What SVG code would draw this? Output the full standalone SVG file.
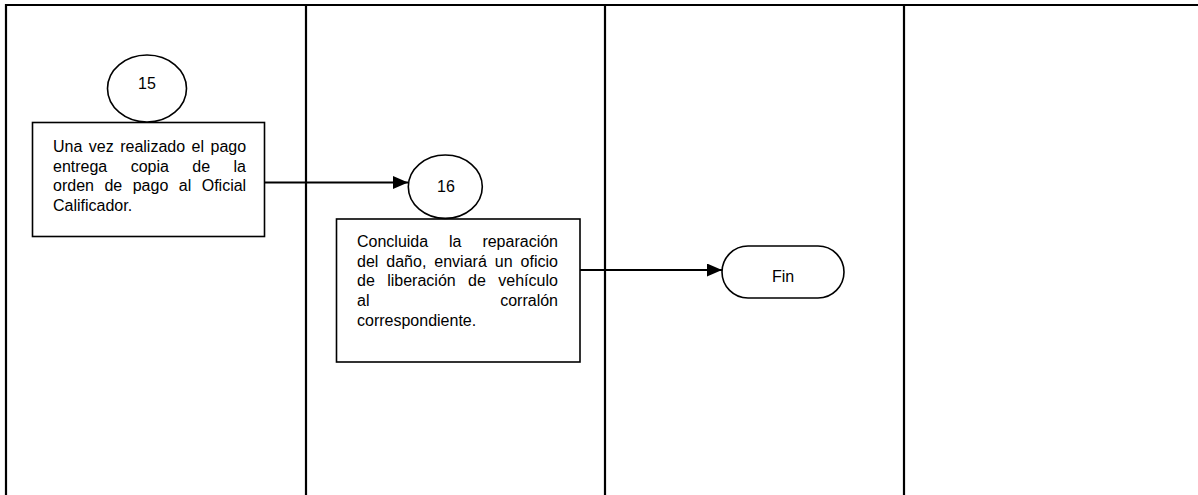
<svg xmlns="http://www.w3.org/2000/svg" width="1198" height="495" viewBox="0 0 1198 495">
<style>
.lane{stroke:#000;stroke-width:2.2;fill:none}
.shape{fill:#fff;stroke:#000;stroke-width:1.6}
.conn{stroke:#000;stroke-width:2;fill:none}
.t{font-family:"Liberation Sans",Arial,sans-serif;font-size:16px;fill:#000}
.c{text-anchor:middle}
</style>
<defs>
<marker id="arr" markerWidth="16" markerHeight="14" refX="15" refY="6.5" orient="auto" markerUnits="userSpaceOnUse">
<polygon points="0,0 15,6.5 0,13" fill="#000"/>
</marker>
</defs>
<rect width="1198" height="495" fill="#fff"/>
<g id="lanes">
<line class="lane" x1="5" y1="5" x2="1198" y2="5"/>
<line class="lane" x1="6" y1="4" x2="6" y2="495"/>
<line class="lane" x1="306" y1="4" x2="306" y2="495"/>
<line class="lane" x1="605" y1="4" x2="605" y2="495"/>
<line class="lane" x1="904" y1="4" x2="904" y2="495"/>
</g>
<g id="connectors">
<line class="conn" x1="265" y1="182.5" x2="408" y2="182.5" marker-end="url(#arr)"/>
<line class="conn" x1="580" y1="270" x2="722" y2="270" marker-end="url(#arr)"/>
</g>
<g id="n15-box">
<rect class="shape" x="32.5" y="122.5" width="232" height="114"/>
<text class="t" y="152"><tspan x="53">Una</tspan><tspan x="88.8">vez</tspan><tspan x="120.2">realizado</tspan><tspan x="191.6">el</tspan><tspan x="210.5">pago</tspan></text>
<text class="t" y="171.7"><tspan x="53">entrega</tspan><tspan x="130.7">copia</tspan><tspan x="192.3">de</tspan><tspan x="233.5">la</tspan></text>
<text class="t" y="191.4"><tspan x="53">orden</tspan><tspan x="104.4">de</tspan><tspan x="132.7">pago</tspan><tspan x="178.8">al</tspan><tspan x="201.7">Oficial</tspan></text>
<text class="t" y="211"><tspan x="53">Calificador.</tspan></text>
</g>
<g id="n15">
<ellipse class="shape" cx="147" cy="88.5" rx="39.5" ry="33.5"/>
<text class="t c" x="147" y="88.5">15</text>
</g>
<g id="n16-box">
<rect class="shape" x="336.5" y="219" width="243.5" height="143"/>
<text class="t" y="247"><tspan x="357">Concluida</tspan><tspan x="449">la</tspan><tspan x="482.4">reparación</tspan></text>
<text class="t" y="266.7"><tspan x="357">del</tspan><tspan x="386.3">daño,</tspan><tspan x="434.3">enviará</tspan><tspan x="494.8">un</tspan><tspan x="520.6">oficio</tspan></text>
<text class="t" y="286.3"><tspan x="357">de</tspan><tspan x="387.2">liberación</tspan><tspan x="468.1">de</tspan><tspan x="498.3">vehículo</tspan></text>
<text class="t" y="306"><tspan x="357">al</tspan><tspan x="500.2">corralón</tspan></text>
<text class="t" y="325.6"><tspan x="357">correspondiente.</tspan></text>
</g>
<g id="n16">
<ellipse class="shape" cx="445.3" cy="186.7" rx="37" ry="31.7"/>
<text class="t c" x="446" y="192">16</text>
</g>
<g id="fin">
<rect class="shape" x="722" y="246" width="122" height="52" rx="26" ry="26"/>
<text class="t c" x="783" y="282">Fin</text>
</g>
</svg>
